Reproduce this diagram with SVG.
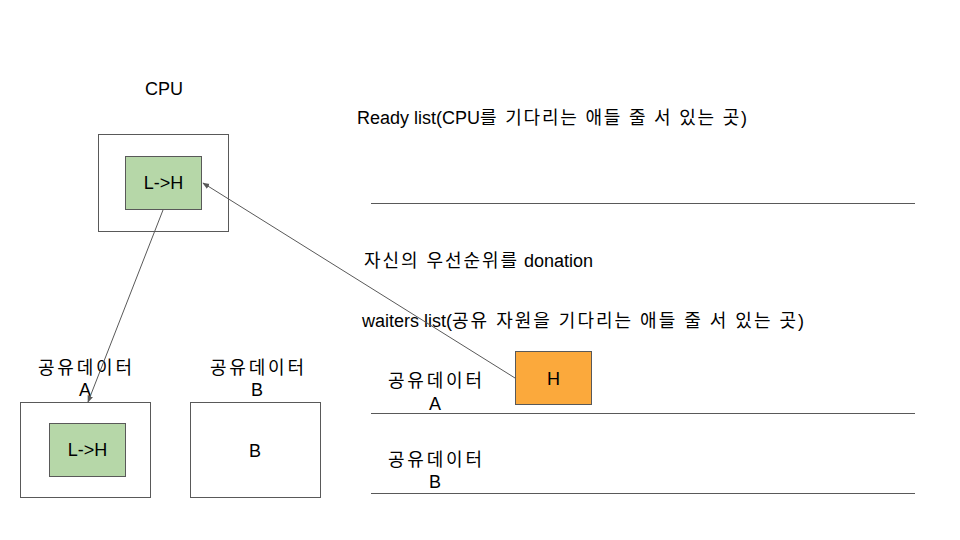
<svg xmlns="http://www.w3.org/2000/svg" width="960" height="540" viewBox="0 0 960 540">
<style>
text{font-family:"Liberation Sans","Noto Sans CJK KR",sans-serif;font-size:18px;fill:#000}
.c{text-anchor:middle}
.box{fill:#fff;stroke:#595959;stroke-width:1}
.green{fill:#b6d7a8;stroke:#595959;stroke-width:1}
.orange{fill:#fba93c;stroke:#595959;stroke-width:1}
.line{stroke:#595959;stroke-width:1.2;fill:none}
.conn{stroke:#595959;stroke-width:1;fill:none;marker-end:url(#ah)}
</style>
<defs>
<marker id="ah" viewBox="0 0 10 10" refX="9" refY="5" markerWidth="7" markerHeight="7" orient="auto" markerUnits="userSpaceOnUse">
<path d="M0,1 L10,5 L0,9 z" fill="#595959"/>
</marker>
</defs>
<rect width="960" height="540" fill="#fff"/>
<g id="cpu">
<text class="c" x="164" y="95">CPU</text>
<rect class="box" x="98.5" y="134.5" width="130" height="97"/>
<rect class="green" x="125.5" y="156.5" width="76" height="53"/>
<text class="c" x="163.5" y="189">L-&gt;H</text>
</g>
<g id="shared-a">
<text class="c" x="85" y="374" textLength="94" lengthAdjust="spacing">공유데이터</text>
<text class="c" x="85" y="396">A</text>
<rect class="box" x="20.5" y="402.5" width="130" height="95"/>
<rect class="green" x="49.5" y="423.5" width="76" height="53"/>
<text class="c" x="87.5" y="456">L-&gt;H</text>
</g>
<g id="shared-b">
<text class="c" x="257" y="374" textLength="94" lengthAdjust="spacing">공유데이터</text>
<text class="c" x="257" y="396">B</text>
<rect class="box" x="190.5" y="402.5" width="130" height="95"/>
<text class="c" x="255" y="457">B</text>
</g>
<g id="ready-list">
<text x="357" y="124">Ready list(CPU<tspan textLength="267" lengthAdjust="spacing">를 기다리는 애들 줄 서 있는 곳)</tspan></text>
<line class="line" x1="371" y1="203.5" x2="915" y2="203.5"/>
</g>
<g id="donation-label">
<text x="364" y="267"><tspan textLength="153" lengthAdjust="spacing">자신의 우선순위를</tspan> donation</text>
</g>
<g id="waiters-list">
<text x="362" y="327">waiters list(<tspan textLength="352" lengthAdjust="spacing">공유 자원을 기다리는 애들 줄 서 있는 곳)</tspan></text>
<text class="c" x="435" y="387" textLength="94" lengthAdjust="spacing">공유데이터</text>
<text class="c" x="435" y="410">A</text>
<line class="line" x1="371" y1="413.5" x2="915" y2="413.5"/>
<text class="c" x="435" y="466" textLength="94" lengthAdjust="spacing">공유데이터</text>
<text class="c" x="435" y="488">B</text>
<line class="line" x1="371" y1="493.5" x2="915" y2="493.5"/>
</g>
<g id="h-node">
<rect class="orange" x="515.5" y="351.5" width="76" height="53"/>
<text class="c" x="553.5" y="385">H</text>
</g>
<g id="connectors">
<line class="conn" x1="163" y1="210" x2="88" y2="402"/>
<line class="conn" x1="515" y1="378" x2="203" y2="183"/>
</g>
</svg>
